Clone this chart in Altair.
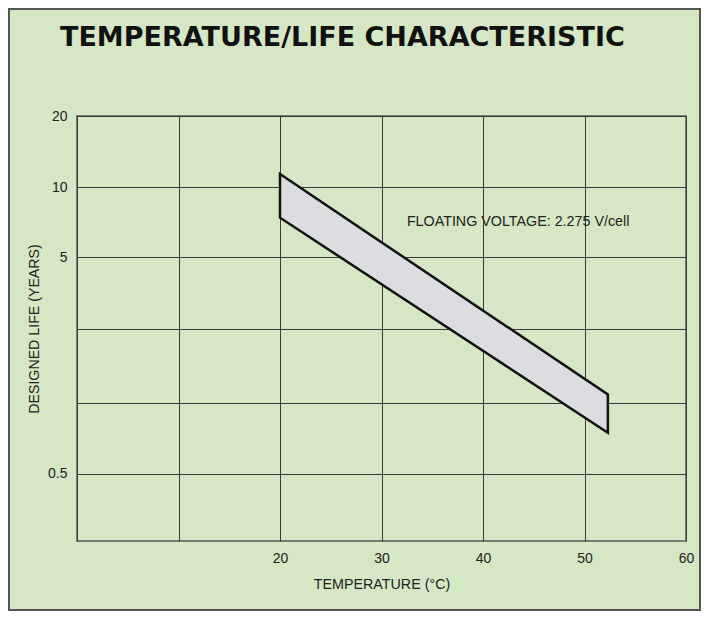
import altair as alt
import pandas as pd

# ---- data ----
temps = [20, 52.3]                 # temperature (°C) at band ends
life_upper = [11.35, 1.08]         # upper edge of designed life band (years)
life_lower = [7.38, 0.746]         # lower edge of designed life band (years)

x_ticks = [0, 10, 20, 30, 40, 50, 60]
x_labeled = [20, 30, 40, 50, 60]
y_ticks = [20, 10, 5, 2, 1, 0.5]
y_labeled = [20, 10, 5, 0.5]
y_domain = [0.25, 0.5, 1, 2, 5, 10, 20]
y_range = [425, 357.7, 286.7, 213, 141, 71, 0]

note_text = ["FLOATING VOLTAGE: 2.275 V/cell"]
note_x = [32.5]
note_y = [7.07]

title_text = ["TEMPERATURE/LIFE CHARACTERISTIC"]

BG = "#d5e7c5"
LABEL_FONT = "Liberation Sans"

band = pd.DataFrame({"temp": temps, "upper": life_upper, "lower": life_lower})
note = pd.DataFrame({"text": note_text, "x": note_x, "y": note_y})
title_df = pd.DataFrame({"text": title_text})

xscale = alt.Scale(domain=[0, 60], nice=False, zero=False)
yscale = alt.Scale(type="log", domain=y_domain, range=y_range, nice=False)

x_label_expr = "indexof(%s, datum.value) >= 0 ? datum.label : ''" % str(x_labeled)
y_label_expr = "indexof(%s, datum.value) >= 0 ? format(datum.value, '~g') : ''" % str(y_labeled)

area = alt.Chart(band).mark_area(
    fill="#dcdde1", stroke="#111111", strokeWidth=2.5, strokeJoin="miter"
).encode(
    x=alt.X("temp:Q", scale=xscale, axis=alt.Axis(
        values=x_ticks, labelExpr=x_label_expr, title="TEMPERATURE (°C)",
        ticks=False, domain=False, grid=True, gridColor="#3a3a3a", gridWidth=1,
        labelFont=LABEL_FONT, labelFontSize=14, labelColor="#222222", labelPadding=10,
        labelFlush=False, labelOverlap=False,
        titleFont=LABEL_FONT, titleFontSize=14.3, titleFontWeight="normal", titleColor="#222222",
        titleBaseline="top", titleY=36,
    )),
    y=alt.Y("upper:Q", scale=yscale, axis=alt.Axis(
        values=y_ticks, labelExpr=y_label_expr, title="DESIGNED LIFE (YEARS)",
        ticks=False, domain=False, grid=True, gridColor="#3a3a3a", gridWidth=1,
        labelFont=LABEL_FONT, labelFontSize=14, labelColor="#222222", labelPadding=10,
        labelFlush=False, labelOverlap=False,
        titleFont=LABEL_FONT, titleFontSize=14.2, titleFontWeight="normal", titleColor="#222222",
        titleAngle=270, titleBaseline="middle", titleAlign="center", titleX=-43, titleY=212.5,
    )),
    y2="lower:Q",
)

text = alt.Chart(note).mark_text(
    align="left", baseline="middle", font=LABEL_FONT, fontSize=14.3, color="#222222"
).encode(
    x=alt.X("x:Q", scale=xscale),
    y=alt.Y("y:Q", scale=yscale),
    text="text:N",
)

title = alt.Chart(title_df).mark_text(
    align="left", baseline="alphabetic", font="DejaVu Sans", fontWeight="bold",
    fontSize=27, color="#111111"
).encode(
    x=alt.value(-17), y=alt.value(-70), text="text:N"
)

frame = alt.Chart(pd.DataFrame({"k": [0]})).mark_rect(
    filled=False, stroke="#555555", strokeWidth=2
).encode(
    x=alt.value(-68), x2=alt.value(623), y=alt.value(-107), y2=alt.value(494)
)

chart = alt.layer(area, text, title, frame).properties(
    width=609,
    height=425,
    autosize=alt.AutoSizeParams(type="none"),
    padding={"left": 69, "top": 108, "right": 15, "bottom": 70},
).configure(background=BG).configure_view(
    stroke="#5a5a5a", strokeWidth=1.5, fill=BG
)

chart.save("out.html", embed_options={"renderer": "svg", "actions": False})
